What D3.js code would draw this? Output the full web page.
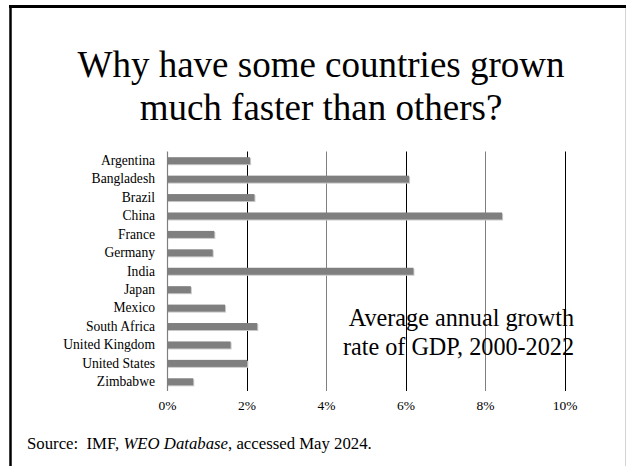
<!DOCTYPE html>
<html>
<head>
<meta charset="utf-8">
<script src="https://cdn.jsdelivr.net/npm/d3@7"></script>
<style>
  html, body { margin: 0; padding: 0; background: #fff; }
  svg { display: block; }
  text { font-family: "Liberation Serif", "Times New Roman", serif; fill: #000; }
</style>
</head>
<body>
<svg id="chart" width="626" height="466"></svg>
<script>
// Average annual GDP growth, 2000-2022 (percent)
const countries = ["Argentina", "Bangladesh", "Brazil", "China", "France", "Germany", "India",
  "Japan", "Mexico", "South Africa", "United Kingdom", "United States", "Zimbabwe"];
const growth = [2.09, 6.09, 2.2, 8.43, 1.19, 1.15, 6.2, 0.6, 1.46, 2.27, 1.6, 2.02, 0.66];
const tickValues = [0, 2, 4, 6, 8, 10];
const titleLines = ["Why have some countries grown", "much faster than others?"];
const noteLines = ["Average annual growth", "rate of GDP, 2000-2022"];

const svg = d3.select("#chart");

// Slide frame
svg.append("rect").attr("x", 0).attr("y", 0).attr("width", 626).attr("height", 466).attr("fill", "#fff");
svg.append("line").attr("x1", 9).attr("x2", 626).attr("y1", 6.5).attr("y2", 6.5)
  .attr("stroke", "#000").attr("stroke-width", 3);
svg.append("line").attr("x1", 10.5).attr("x2", 10.5).attr("y1", 5).attr("y2", 466)
  .attr("stroke", "#000").attr("stroke-width", 2.5);
svg.append("line").attr("x1", 625.5).attr("x2", 625.5).attr("y1", 8).attr("y2", 466)
  .attr("stroke", "#d4d4d4").attr("stroke-width", 1);

// Title
svg.append("text")
  .attr("x", 321).attr("text-anchor", "middle")
  .style("font-size", "37px")
  .selectAll("tspan").data(titleLines).join("tspan")
  .attr("x", 321).attr("y", (d, i) => 77 + i * 43)
  .text(d => d);

// Scales
const x = d3.scaleLinear().domain([0, 10]).range([167, 564.5]);
const y = d3.scaleBand().domain(countries).range([151.5, 391]).paddingInner(0).paddingOuter(0);

// Vertical gridlines (alternating black / grey)
const g = svg.append("g");
g.selectAll("line.grid").data(tickValues.filter(v => v > 0)).join("line")
  .attr("class", "grid")
  .attr("x1", d => Math.round(x(d)) + 0.5).attr("x2", d => Math.round(x(d)) + 0.5)
  .attr("y1", 151.5).attr("y2", 391)
  .attr("stroke", d => (d / 2) % 2 === 1 ? "#000" : "#7f7f7f")
  .attr("stroke-width", 1);

// Bars with a light drop shadow
const rows = countries.map((c, i) => ({ c, v: growth[i] }));
const barH = 7;
g.selectAll("rect.shadow").data(rows).join("rect")
  .attr("class", "shadow")
  .attr("x", x(0) + 1)
  .attr("y", d => y(d.c) + y.bandwidth() / 2 - barH / 2 + 1)
  .attr("width", d => x(d.v) - x(0))
  .attr("height", barH)
  .attr("fill", "#c9c9c9");
g.selectAll("rect.bar").data(rows).join("rect")
  .attr("class", "bar")
  .attr("x", x(0))
  .attr("y", d => y(d.c) + y.bandwidth() / 2 - barH / 2)
  .attr("width", d => x(d.v) - x(0))
  .attr("height", barH)
  .attr("fill", "#7f7f7f");

// Category axis line
g.append("line")
  .attr("x1", Math.round(x(0)) + 0.5).attr("x2", Math.round(x(0)) + 0.5)
  .attr("y1", 151.5).attr("y2", 391)
  .attr("stroke", "#7f7f7f").attr("stroke-width", 1.2);

// Category labels
const yAxis = d3.axisLeft(y).tickSize(0).tickPadding(12);
const ya = svg.append("g").attr("transform", `translate(${x(0)},0)`).call(yAxis);
ya.select(".domain").remove();
ya.selectAll("text")
  .style("font-family", '"Liberation Serif", "Times New Roman", serif')
  .style("font-size", "13.6px").attr("fill", "#000");

// Value axis labels
const xAxis = d3.axisBottom(x).tickValues(tickValues).tickSize(0).tickPadding(0)
  .tickFormat(d => d + "%");
const xa = svg.append("g").attr("transform", "translate(0,400)").call(xAxis);
xa.select(".domain").remove();
xa.selectAll("text")
  .style("font-family", '"Liberation Serif", "Times New Roman", serif')
  .style("font-size", "13.5px").attr("fill", "#000");

// Annotation
svg.append("text")
  .attr("text-anchor", "end")
  .style("font-size", "24.2px")
  .selectAll("tspan").data(noteLines).join("tspan")
  .attr("x", 574).attr("y", (d, i) => 325.5 + i * 29)
  .text(d => d);

// Source note
const src = svg.append("text").attr("x", 27).attr("y", 449)
  .style("font-size", "16.75px").style("white-space", "pre");
src.append("tspan").text("Source:  IMF, ");
src.append("tspan").style("font-style", "italic").text("WEO Database");
src.append("tspan").text(", accessed May 2024.");
</script>
</body>
</html>
